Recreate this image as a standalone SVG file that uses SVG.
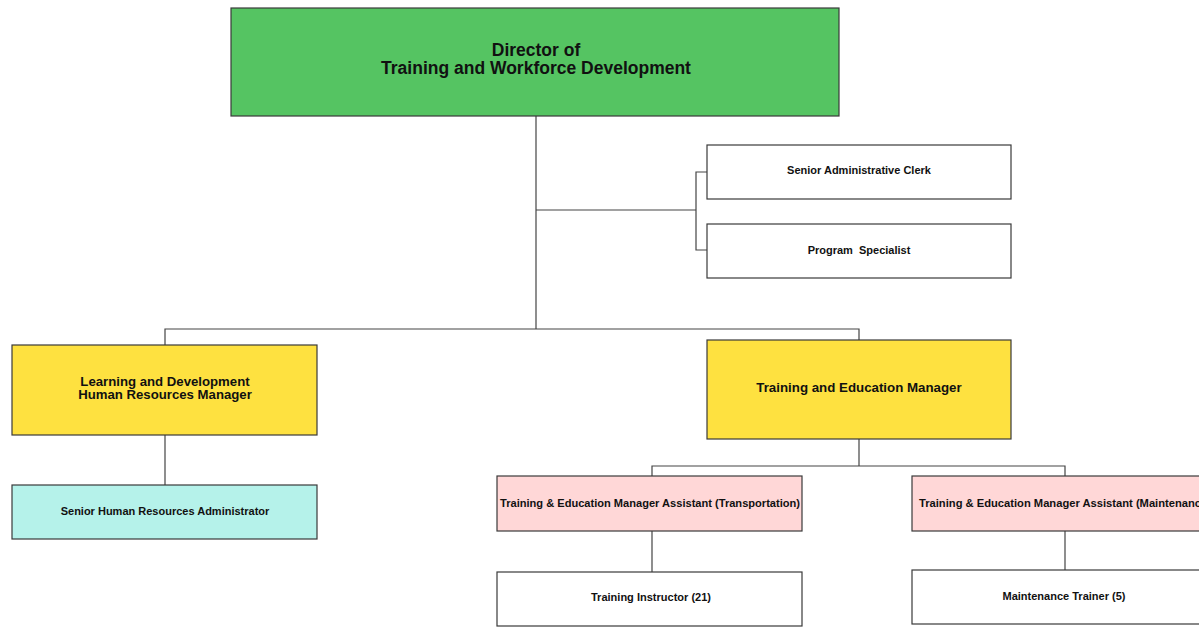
<svg xmlns="http://www.w3.org/2000/svg" width="1199" height="627" viewBox="0 0 1199 627">
  <style>
    .box { stroke: #3a3a3a; stroke-width: 1.2; }
    .lbl { font-family: "Liberation Sans", Arial, sans-serif; font-weight: bold; fill: #111; text-anchor: middle; }
    .conn { fill: none; stroke: #444; stroke-width: 1.2; }
    .green { fill: #55c462; }
    .yellow { fill: #fee140; }
    .cyan { fill: #b5f2ea; }
    .pink { fill: #ffd7d7; }
    .white { fill: #ffffff; }
  </style>
  <rect width="1199" height="627" fill="#ffffff"/>

  <!-- reporting lines -->
  <g id="connectors">
    <path class="conn" d="M536 116 V329"/>
    <path class="conn" d="M536 210 H615" stroke="#999"/>
    <path class="conn" d="M615 210 H696"/>
    <path class="conn" d="M707 172 H696 V250 H707"/>
    <path class="conn" d="M165 345 V329 H859 V340"/>
    <path class="conn" d="M165 435 V485"/>
    <path class="conn" d="M859 439 V466"/>
    <path class="conn" d="M652 476 V466 H1065 V476"/>
    <path class="conn" d="M652 531 V572"/>
    <path class="conn" d="M1065 531 V570"/>
  </g>

  <g id="director">
    <rect class="box green" x="231" y="8" width="608" height="108"/>
    <text class="lbl" x="536" y="56" font-size="17.5">Director of</text>
    <text class="lbl" x="536" y="74" font-size="17.5">Training and Workforce Development</text>
  </g>

  <g id="senior-admin-clerk">
    <rect class="box white" x="707" y="145" width="304" height="54"/>
    <text class="lbl" x="859" y="174" font-size="11">Senior Administrative Clerk</text>
  </g>

  <g id="program-specialist">
    <rect class="box white" x="707" y="224" width="304" height="54"/>
    <text class="lbl" x="859" y="254" font-size="11" xml:space="preserve">Program  Specialist</text>
  </g>

  <g id="ld-hr-manager">
    <rect class="box yellow" x="12" y="345" width="305" height="90"/>
    <text class="lbl" x="165" y="386" font-size="13.2">Learning and Development</text>
    <text class="lbl" x="165" y="399" font-size="13.2">Human Resources Manager</text>
  </g>

  <g id="senior-hr-admin">
    <rect class="box cyan" x="12" y="485" width="305" height="54"/>
    <text class="lbl" x="165" y="515" font-size="11">Senior Human Resources Administrator</text>
  </g>

  <g id="training-education-manager">
    <rect class="box yellow" x="707" y="340" width="304" height="99"/>
    <text class="lbl" x="859" y="392" font-size="13.3">Training and Education Manager</text>
  </g>

  <g id="tema-transportation">
    <rect class="box pink" x="497" y="476" width="305" height="55"/>
    <text class="lbl" x="650" y="507" font-size="10" textLength="300" lengthAdjust="spacingAndGlyphs">Training &amp; Education Manager Assistant (Transportation)</text>
  </g>

  <g id="tema-maintenance">
    <rect class="box pink" x="912" y="476" width="305" height="55"/>
    <text class="lbl" x="1065" y="507" font-size="10" textLength="292" lengthAdjust="spacingAndGlyphs">Training &amp; Education Manager Assistant (Maintenance)</text>
  </g>

  <g id="training-instructor">
    <rect class="box white" x="497" y="572" width="305" height="54"/>
    <text class="lbl" x="651" y="601" font-size="10" textLength="120" lengthAdjust="spacingAndGlyphs">Training Instructor (21)</text>
  </g>

  <g id="maintenance-trainer">
    <rect class="box white" x="912" y="570" width="305" height="54"/>
    <text class="lbl" x="1064" y="600" font-size="10" textLength="123" lengthAdjust="spacingAndGlyphs">Maintenance Trainer (5)</text>
  </g>
</svg>
